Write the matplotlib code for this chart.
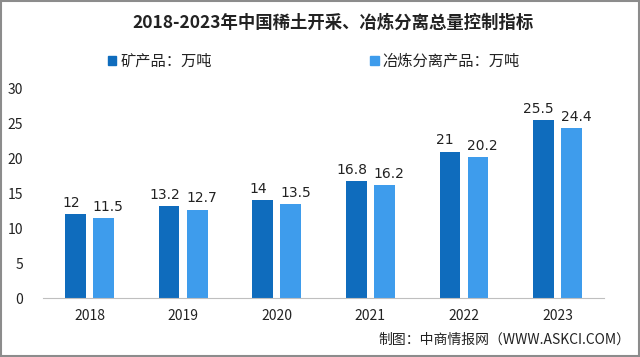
import matplotlib
matplotlib.use("Agg")
import matplotlib.pyplot as plt
from matplotlib.patches import Rectangle
import numpy as np

plt.rcParams['font.family'] = ['Noto Sans CJK SC', 'DejaVu Sans']

years = ['2018', '2019', '2020', '2021', '2022', '2023']
mine = [12, 13.2, 14, 16.8, 21, 25.5]
smelt = [11.5, 12.7, 13.5, 16.2, 20.2, 24.4]
series_names = ['矿产品：万吨', '冶炼分离产品：万吨']
title = '2018-2023年中国稀土开采、冶炼分离总量控制指标'
source = '制图：中商情报网（WWW.ASKCI.COM）'

c_dark = '#0F6CBD'
c_light = '#3E9CEC'

fig = plt.figure(figsize=(6.4, 3.57), dpi=100)
ax = fig.add_axes([0.067, 0.165, 0.877, 0.586])

x = np.arange(len(years))
w = 0.22
off = 0.15
ax.bar(x - off, mine, w, color=c_dark)
ax.bar(x + off, smelt, w, color=c_light)

for xi, v in zip(x - off, mine):
    ax.text(xi - 0.05, v + 0.6, f'{v:g}', ha='center', va='bottom', fontsize=10, color='#222222', family='DejaVu Sans')
for xi, v in zip(x + off, smelt):
    ax.text(xi + 0.05, v + 0.6, f'{v:g}', ha='center', va='bottom', fontsize=10, color='#222222', family='DejaVu Sans')

ax.set_xlim(-0.5, 5.5)
ax.set_ylim(0, 30)
ax.set_yticks([0, 5, 10, 15, 20, 25, 30])
ax.set_xticks(x)
ax.set_xticklabels(years)
ax.tick_params(axis='both', length=0, labelsize=10, colors='#222222')
ax.tick_params(axis='x', pad=8)
ax.tick_params(axis='y', pad=14)
for s in ['top', 'right', 'left']:
    ax.spines[s].set_visible(False)
ax.spines['bottom'].set_color('#BFBFBF')

fig.text(0.52, 0.935, title, ha='center', va='center', fontsize=12.5, fontweight='bold', color='#222222')

# legend
fig.patches.append(Rectangle((0.168, 0.818), 0.014, 0.025, transform=fig.transFigure, color=c_dark))
fig.text(0.188, 0.83, series_names[0], ha='left', va='center', fontsize=11, color='#222222')
fig.patches.append(Rectangle((0.578, 0.818), 0.014, 0.025, transform=fig.transFigure, color=c_light))
fig.text(0.598, 0.83, series_names[1], ha='left', va='center', fontsize=11, color='#222222')

fig.text(0.985, 0.048, source, ha='right', va='center', fontsize=10, color='#222222')

fig.patches.append(Rectangle((0.002, 0.003), 0.996, 0.994, transform=fig.transFigure,
                             fill=False, edgecolor='#8C8C8C', linewidth=1.5))

fig.savefig('out.png', dpi=100)
